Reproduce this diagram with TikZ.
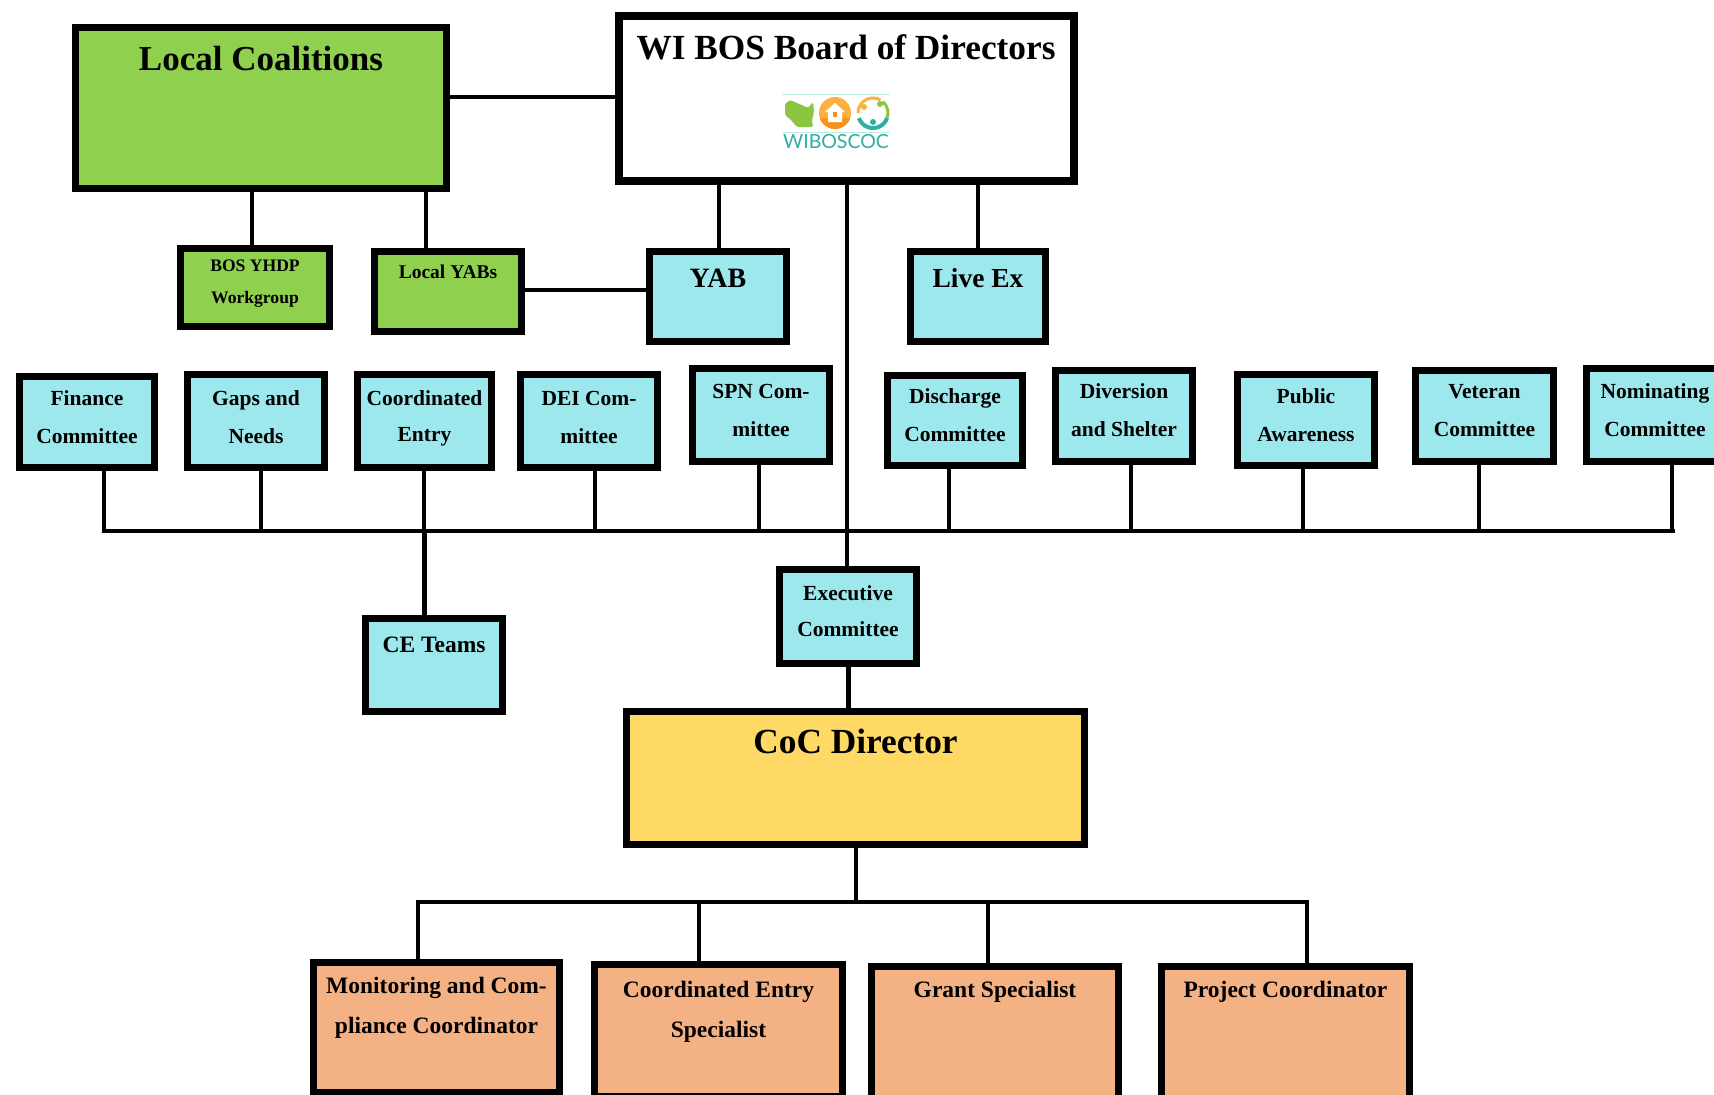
\documentclass[tikz,border=0pt]{standalone}
\usepackage{fontspec}
\setmainfont{Liberation Serif}
\newfontfamily\logofont{Lato}
\definecolor{cyanbox}{HTML}{9DE8EC}
\definecolor{greenbox}{HTML}{8FD14F}
\definecolor{yellowbox}{HTML}{FFD966}
\definecolor{peachbox}{HTML}{F4B183}
\definecolor{logogreen}{HTML}{8CC63F}
\definecolor{logoorange}{HTML}{FBB040}
\definecolor{logodeep}{HTML}{F7941E}
\definecolor{logoteal}{HTML}{2EAFA0}
\definecolor{logoline}{HTML}{BEEBE6}
\tikzset{
  orgbox/.style={draw=black,line width=7pt,inner sep=0pt,anchor=center},
  conn/.style={draw=black,line width=4pt,line cap=butt},
  heavyconn/.style={draw=black,line width=5pt},
  bluebox/.style={orgbox,fill=cyanbox},
  leafbox/.style={orgbox,fill=greenbox},
  whitebox/.style={orgbox,fill=white,line width=8pt},
  yellowfill/.style={orgbox,fill=yellowbox},
  peachfill/.style={orgbox,fill=peachbox}
}
\newcommand\bx[7]{%
  \pgfmathsetmacro\bxw{#5-#3-7}%
  \pgfmathsetmacro\bxh{#6-#4-7}%
  \pgfmathsetmacro\bxcx{(#3+#5)/2}%
  \pgfmathsetmacro\bxcy{(#4+#6)/2}%
  \pgfmathsetmacro\bxtop{#4+3.5}%
  \node[#1,minimum width=\bxw pt,minimum height=\bxh pt] (#2) at (\bxcx,\bxcy)
    {\parbox[c][\bxh pt][t]{\bxw pt}{#7}};%
}
\newcommand\tx[4]{\fontsize{#1pt}{#2pt}\selectfont\bfseries\centering
  \vspace*{\dimexpr #3pt-\bxtop pt-1em\relax}\rule{0pt}{1em}#4}
\begin{document}
\begin{tikzpicture}[x=1pt,y=-1pt]
\useasboundingbox (0,0) rectangle (1714,1095);
\clip (0,0) rectangle (1714,1095);
% top row
\bx{leafbox}{local}{72}{24}{450}{192}{\tx{35}{40}{70}{Local Coalitions}}
\bx{whitebox}{board}{615}{12}{1077}{184}{\tx{35.3}{40}{59}{WI BOS Board of Directors}}
\bx{leafbox}{yhdp}{177}{245}{333}{330}{\tx{17.6}{32}{271}{BOS YHDP\\Workgroup}}
\bx{leafbox}{lyabs}{371}{248}{525}{335}{\tx{19.5}{24}{278}{Local YABs}}
\bx{bluebox}{yab}{646}{248}{790}{345}{\tx{28}{32}{287.5}{YAB}}
\bx{bluebox}{livex}{907}{248}{1049}{345}{\tx{27.5}{32}{287.5}{Live Ex}}
% committees
\bx{bluebox}{fin}{16}{373}{158}{471}{\tx{21.5}{38}{405}{Finance\\Committee}}
\bx{bluebox}{gaps}{184}{371}{328}{471}{\tx{21.5}{38}{405}{Gaps and\\Needs}}
\bx{bluebox}{coord}{354}{371}{495}{471}{\tx{21.5}{36.5}{405}{Coordinated\\Entry}}
\bx{bluebox}{dei}{517}{371}{661}{471}{\tx{21.5}{38}{405}{DEI Com-\\mittee}}
\bx{bluebox}{spn}{689}{365}{833}{465}{\tx{21.5}{38}{398.5}{SPN Com-\\mittee}}
\bx{bluebox}{disch}{884}{372}{1026}{469}{\tx{21.5}{38}{403}{Discharge\\Committee}}
\bx{bluebox}{diver}{1052}{367}{1196}{465}{\tx{21.5}{38}{398.5}{Diversion\\and Shelter}}
\bx{bluebox}{public}{1234}{371}{1378}{469}{\tx{21.5}{38}{403}{Public\\Awareness}}
\bx{bluebox}{veteran}{1412}{367}{1557}{465}{\tx{21.5}{38}{398.5}{Veteran\\Committee}}
\bx{bluebox}{nomin}{1583}{365}{1727}{465}{\tx{21.5}{38}{398.5}{Nominating\\Committee}}
% middle
\bx{bluebox}{ce}{362}{615}{506}{715}{\tx{23.5}{28}{652.5}{CE Teams}}
\bx{bluebox}{exec}{776}{566}{920}{667}{\tx{21.5}{36.5}{600}{Executive\\Committee}}
\bx{yellowfill}{coc}{623}{708}{1088}{848}{\tx{35.3}{40}{753}{CoC Director}}
% staff
\bx{peachfill}{monit}{310}{959}{563}{1096}{\tx{23.5}{40}{993}{Monitoring and Com-\\pliance Coordinator}}
\bx{peachfill}{cespec}{591}{961}{846}{1100}{\tx{23.5}{40}{997}{Coordinated Entry\\Specialist}}
\bx{peachfill}{grant}{868}{963}{1122}{1110}{\tx{23.5}{40}{997}{Grant Specialist}}
\bx{peachfill}{proj}{1158}{963}{1413}{1110}{\tx{23.5}{40}{997}{Project Coordinator}}
% buses
\coordinate (busL) at (104,531);
\coordinate (busR) at (1673,531);
\coordinate (staffL) at (418,902);
\coordinate (staffR) at (1307,902);
\draw[conn,line cap=rect] (busL) -- (busR);
\draw[conn,line cap=rect] (staffL) -- (staffR);
% top links
\draw[conn] (local.east |- 0,97) -- (board.west |- 0,97);
\draw[conn] (252,0 |- local.south) -- (252,0 |- yhdp.north);
\draw[conn] (426,0 |- local.south) -- (426,0 |- lyabs.north);
\draw[conn] (lyabs.east |- 0,290) -- (yab.west |- 0,290);
\draw[conn] (719,0 |- board.south) -- (719,0 |- yab.north);
\draw[conn] (978,0 |- board.south) -- (978,0 |- livex.north);
\draw[conn] (847,0 |- board.south) -- (847,0 |- exec.north);
% committee drops
\foreach \nm/\xx in {fin/104,gaps/261,coord/424,dei/595,spn/759,disch/949,diver/1131,public/1303,veteran/1479,nomin/1672}
  \draw[conn] (\xx,0 |- \nm.south) -- (\xx,0 |- busL);
\draw[heavyconn] (424,0 |- busL) -- (424,0 |- ce.north);
\draw[heavyconn] (848,0 |- exec.south) -- (848,0 |- coc.north);
\draw[conn] (856,0 |- coc.south) -- (856,0 |- staffL);
\foreach \nm/\xx in {monit/418,cespec/699,grant/988,proj/1307}
  \draw[conn] (\xx,0 |- staffL) -- (\xx,0 |- \nm.north);
% logo
\fill[logoline] (782,93.5) rectangle (890,95);
\fill[logoline] (782,131.5) rectangle (890,133);
\fill[logogreen,rounded corners=1.5pt] (785,104) -- (790,100) -- (797,103) -- (804,106) -- (808,108) -- (813,102) -- (814,112) -- (812,120) -- (813,127) -- (797,127) -- (791,120) -- (785,115) -- cycle;
\fill[logoorange] (835,113) circle (16);
\begin{scope}
  \clip (815,118) rectangle (855,132);
  \fill[logodeep] (835,113) circle (16);
\end{scope}
\fill[white] (825,112) -- (835,103) -- (845,112) -- (842,112) -- (842,122) -- (828,122) -- (828,112) -- cycle;
\fill[logodeep] (833,112) rectangle (837,117);
\draw[logoteal,line width=4pt] (873,113) +(20:15) arc (20:160:15);
\draw[logoorange,line width=3pt] (873,113) +(180:15) arc (180:300:15);
\draw[logogreen,line width=3pt] (873,113) +(-50:15) arc (-50:20:15);
\fill[logoorange] (864,107) circle (3);
\fill[logogreen] (880,104) circle (3);
\fill[logoteal] (873,122) circle (3);
\node[inner sep=0pt,text=logoteal] (logotext) at (836,142) {\logofont\fontsize{19.5}{22}\selectfont WIBOSCOC};
\end{tikzpicture}
\end{document}
